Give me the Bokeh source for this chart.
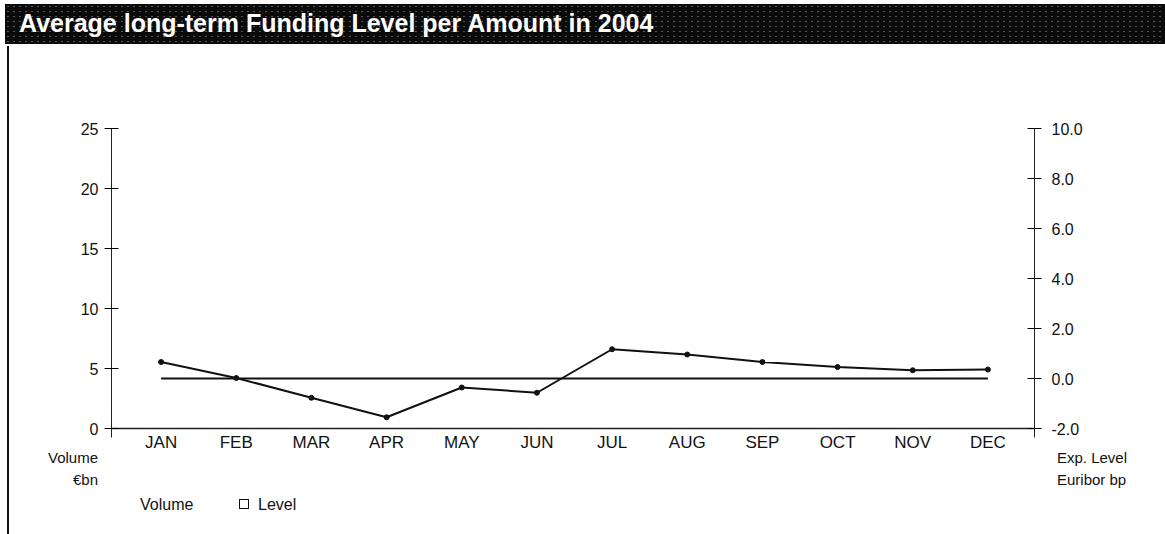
from bokeh.plotting import figure
from bokeh.models import Range1d, LinearAxis, FixedTicker, Div
from bokeh.layouts import column, row
from bokeh.embed import file_html
from bokeh.resources import INLINE

# ---- data ----
months = ["JAN", "FEB", "MAR", "APR", "MAY", "JUN", "JUL", "AUG", "SEP", "OCT", "NOV", "DEC"]
level = [0.66, 0.02, -0.77, -1.55, -0.36, -0.57, 1.17, 0.96, 0.66, 0.46, 0.33, 0.36]
zero_line = [0.0, 0.0, 0.0, 0.0, 0.0, 0.0, 0.0, 0.0, 0.0, 0.0, 0.0, 0.0]
volume_ticks = [0, 5, 10, 15, 20, 25]
level_ticks = [-2, 0, 2, 4, 6, 8, 10]
title_text = "Average long-term Funding Level per Amount in 2004"
left_title = ["Volume", "€bn"]
right_title = ["Exp. Level", "Euribor bp"]
legend_items = ["Volume", "Level"]

x_idx = list(range(len(months)))
FONT = "Liberation Sans"
INK = "#111111"

W, H = 1165, 534
BAR_H = 46          # height of the title strip
LINE_W = 9          # strip holding the left border line
BOTTOM_MARGIN = 27
FIG_H = (128 - BAR_H) + 300 + BOTTOM_MARGIN
BOT_H = H - BAR_H - FIG_H
FIG_W = W - LINE_W

p = figure(width=FIG_W, height=FIG_H, output_backend="svg", toolbar_location=None,
           x_range=Range1d(-0.66, 11.62), y_range=Range1d(0, 25),
           min_border_left=111 - LINE_W, min_border_right=W - 1034,
           min_border_top=128 - BAR_H, min_border_bottom=BOTTOM_MARGIN,
           x_axis_location=None, y_axis_location=None)
p.outline_line_color = None
p.xgrid.visible = False
p.ygrid.visible = False
p.background_fill_color = "white"
p.border_fill_color = "white"
p.extra_y_ranges = {"level": Range1d(-2, 10)}

# left axis (Volume)
ax_l = LinearAxis(ticker=FixedTicker(ticks=volume_ticks, minor_ticks=[]))
ax_l.major_tick_in = 7
ax_l.major_tick_out = 7
ax_l.minor_tick_line_color = None
ax_l.major_label_standoff = 6
ax_l.major_label_text_font = FONT
ax_l.major_label_text_font_size = "16px"
ax_l.major_label_text_color = INK
ax_l.axis_line_color = "#222222"
p.add_layout(ax_l, "left")

# right axis (Level)
ax_r = LinearAxis(y_range_name="level", ticker=FixedTicker(ticks=level_ticks, minor_ticks=[]))
ax_r.major_tick_in = 7
ax_r.major_tick_out = 7
ax_r.minor_tick_line_color = None
ax_r.major_label_standoff = 10
ax_r.major_label_overrides = {t: f"{t:.1f}" for t in level_ticks}
ax_r.major_label_text_font = FONT
ax_r.major_label_text_font_size = "16px"
ax_r.major_label_text_color = INK
ax_r.axis_line_color = "#222222"
p.add_layout(ax_r, "right")

# bottom axis (months)
ax_b = LinearAxis(ticker=FixedTicker(ticks=x_idx, minor_ticks=[-0.66, 11.62]))
ax_b.major_label_overrides = {i: m for i, m in zip(x_idx, months)}
ax_b.major_tick_line_color = None
ax_b.major_tick_in = 0
ax_b.major_tick_out = 0
ax_b.minor_tick_in = 0
ax_b.minor_tick_out = 9
ax_b.minor_tick_line_color = "#222222"
ax_b.major_label_standoff = -5
ax_b.major_label_text_font = FONT
ax_b.major_label_text_font_size = "17px"
ax_b.major_label_text_color = INK
ax_b.axis_line_color = "#222222"
ax_b.axis_line_width = 1.5
p.add_layout(ax_b, "below")

# series
p.line(x_idx, zero_line, y_range_name="level", line_color=INK, line_width=2)
p.line(x_idx, level, y_range_name="level", line_color=INK, line_width=2)
p.scatter(x_idx, level, y_range_name="level", size=5, fill_color=INK, line_color=INK)

# title strip
bar_html = (
    '<div style="margin-left:5px;margin-top:4px;width:1160px;height:40px;'
    'background-color:#0b0b0b;'
    'background-image:radial-gradient(rgba(255,255,255,0.30) 0.7px, transparent 1px);'
    'background-size:6px 5px;'
    'color:white;font-family:\'Liberation Sans\';font-weight:bold;font-size:25px;'
    'line-height:38px;padding-left:14px;box-sizing:border-box;white-space:nowrap;">'
    + title_text + '</div>'
)
bar = Div(text=bar_html, width=W, height=BAR_H, margin=0)

# left border line
line_div = Div(text='<div style="margin-left:7px;width:2px;height:%dpx;background:%s"></div>'
               % (H - BAR_H, INK), width=LINE_W, height=H - BAR_H, margin=0)

# bottom texts (positions relative to the strip under the figure)
def span(left=None, right=None, center=0, size=15, text=""):
    pos = ("left:%dpx;" % left) if left is not None else ("right:%dpx;" % right)
    lh = size + 2
    return ('<span style="position:absolute;%stop:%dpx;font-size:%dpx;line-height:%dpx;'
            'white-space:nowrap">%s</span>' % (pos, center - lh // 2, size, lh, text))

ox, oy = LINE_W, BAR_H + FIG_H
parts = [
    span(right=FIG_W - (98 - ox), center=457 - oy, text=left_title[0]),
    span(right=FIG_W - (98 - ox), center=479 - oy, text=left_title[1]),
    span(left=1057 - ox, center=457 - oy, text=right_title[0]),
    span(left=1057 - ox, center=479 - oy, text=right_title[1]),
    span(left=140 - ox, center=505 - oy, size=16, text=legend_items[0]),
    span(left=258 - ox, center=505 - oy, size=16, text=legend_items[1]),
    '<span style="position:absolute;left:%dpx;top:%dpx;width:10px;height:10px;'
    'border:1px solid %s;background:white"></span>' % (239 - ox, 499 - oy, INK),
]
bot_html = ('<div style="position:relative;width:%dpx;height:%dpx;font-family:\'Liberation Sans\';color:%s;overflow:visible">'
            % (FIG_W, BOT_H, INK)) + "".join(parts) + "</div>"
bottom = Div(text=bot_html, width=FIG_W, height=BOT_H, margin=0)

layout = column(bar, row(line_div, column(p, bottom, spacing=0), spacing=0), spacing=0)

open("out.html", "w").write(file_html(layout, INLINE))
